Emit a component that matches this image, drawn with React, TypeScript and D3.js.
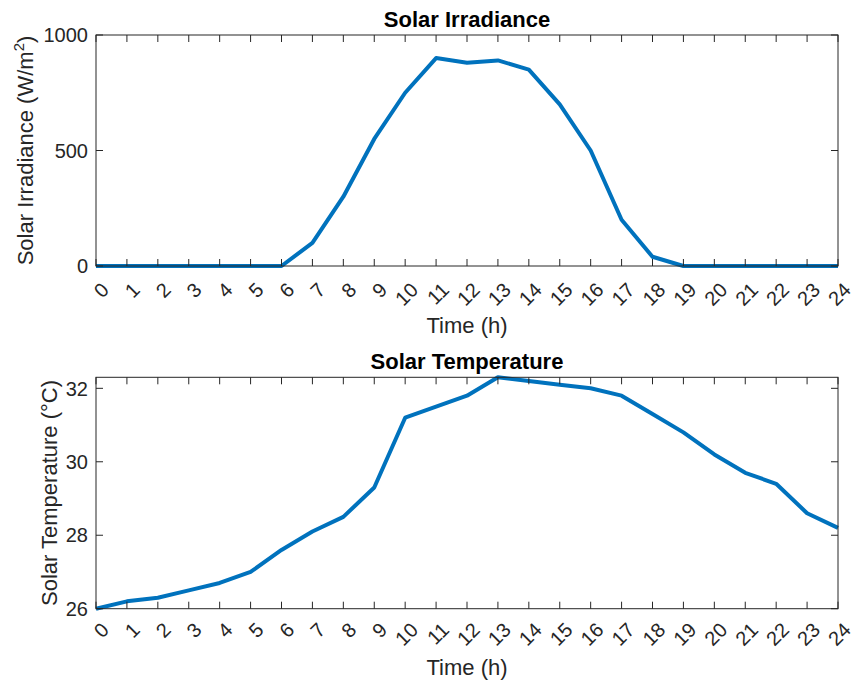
import React, { useEffect, useRef } from 'react';
import * as d3 from 'd3';

// hourly values
const hours = [0, 1, 2, 3, 4, 5, 6, 7, 8, 9, 10, 11, 12, 13, 14, 15, 16, 17, 18, 19, 20, 21, 22, 23, 24];
const irradiance = [0, 0, 0, 0, 0, 0, 0, 100, 300, 550, 750, 900, 880, 890, 850, 700, 500, 200, 40, 0, 0, 0, 0, 0, 0];
const temperature = [26.0, 26.2, 26.3, 26.5, 26.7, 27.0, 27.6, 28.1, 28.5, 29.3, 31.2, 31.5, 31.8, 32.3, 32.2, 32.1, 32.0, 31.8, 31.3, 30.8, 30.2, 29.7, 29.4, 28.6, 28.2];
const irradianceTicks = [0, 500, 1000];
const temperatureTicks = [26, 28, 30, 32];

const FONT = '"Liberation Sans", Arial, Helvetica, sans-serif';
const AXIS_COLOR = '#262626';
const LINE_COLOR = '#0072BD';

type Panel = {
  values: number[];
  domain: [number, number];
  ticks: number[];
  top: number;
  bottom: number;
  title: string;
  titleY: number;
  yLabel: string;
  yLabelSup?: string;
  yLabelX: number;
  tickLabelY: number;
  xLabelY: number;
};

function drawPanel(svg: d3.Selection<SVGSVGElement, unknown, null, undefined>, p: Panel) {
  const left = 96;
  const right = 838;
  const x = d3.scaleLinear().domain([0, 24]).range([left, right]);
  const y = d3.scaleLinear().domain(p.domain).range([p.bottom, p.top]);
  const tickLen = 7;

  const g = svg.append('g');

  // data line
  const line = d3.line<number>()
    .x((_, i) => x(hours[i]))
    .y(d => y(d));
  g.append('path')
    .datum(p.values)
    .attr('d', line)
    .attr('fill', 'none')
    .attr('stroke', LINE_COLOR)
    .attr('stroke-width', 4)
    .attr('stroke-linejoin', 'round');

  // box
  g.append('rect')
    .attr('x', left)
    .attr('y', p.top)
    .attr('width', right - left)
    .attr('height', p.bottom - p.top)
    .attr('fill', 'none')
    .attr('stroke', AXIS_COLOR)
    .attr('stroke-width', 1);

  // x ticks (bottom + top, inward)
  hours.forEach(h => {
    g.append('line')
      .attr('x1', x(h)).attr('x2', x(h))
      .attr('y1', p.bottom).attr('y2', p.bottom - tickLen)
      .attr('stroke', AXIS_COLOR);
    g.append('line')
      .attr('x1', x(h)).attr('x2', x(h))
      .attr('y1', p.top).attr('y2', p.top + tickLen)
      .attr('stroke', AXIS_COLOR);
    g.append('text')
      .attr('transform', `translate(${x(h) + 4},${p.tickLabelY}) rotate(-45)`)
      .attr('text-anchor', 'end')
      .attr('dy', '0.72em')
      .attr('font-family', FONT)
      .attr('font-size', 20)
      .attr('fill', AXIS_COLOR)
      .text(String(h));
  });

  // y ticks (left + right, inward)
  p.ticks.forEach(t => {
    g.append('line')
      .attr('x1', left).attr('x2', left + tickLen)
      .attr('y1', y(t)).attr('y2', y(t))
      .attr('stroke', AXIS_COLOR);
    g.append('line')
      .attr('x1', right).attr('x2', right - tickLen)
      .attr('y1', y(t)).attr('y2', y(t))
      .attr('stroke', AXIS_COLOR);
    g.append('text')
      .attr('x', left - 8)
      .attr('y', y(t))
      .attr('dy', '0.36em')
      .attr('text-anchor', 'end')
      .attr('font-family', FONT)
      .attr('font-size', 20)
      .attr('fill', AXIS_COLOR)
      .text(String(t));
  });

  // title
  g.append('text')
    .attr('x', (left + right) / 2)
    .attr('y', p.titleY)
    .attr('text-anchor', 'middle')
    .attr('font-family', FONT)
    .attr('font-size', 22)
    .attr('font-weight', 'bold')
    .attr('fill', '#000')
    .text(p.title);

  // x label
  g.append('text')
    .attr('x', (left + right) / 2)
    .attr('y', p.xLabelY)
    .attr('text-anchor', 'middle')
    .attr('font-family', FONT)
    .attr('font-size', 22)
    .attr('fill', AXIS_COLOR)
    .text('Time (h)');

  // y label
  const yl = g.append('text')
    .attr('transform', `translate(${p.yLabelX},${(p.top + p.bottom) / 2}) rotate(-90)`)
    .attr('text-anchor', 'middle')
    .attr('font-family', FONT)
    .attr('font-size', 22)
    .attr('fill', AXIS_COLOR);
  if (p.yLabelSup) {
    yl.append('tspan').text(p.yLabel);
    yl.append('tspan').attr('dy', -9).attr('font-size', 15).text(p.yLabelSup);
    yl.append('tspan').attr('dy', 9).text(')');
  } else {
    yl.text(p.yLabel);
  }
}

export default function App() {
  const svgRef = useRef<SVGSVGElement>(null);

  useEffect(() => {
    const svg = d3.select(svgRef.current as SVGSVGElement);
    svg.selectAll('*').remove();

    drawPanel(svg, {
      values: irradiance,
      domain: [0, 1000],
      ticks: irradianceTicks,
      top: 35,
      bottom: 266,
      title: 'Solar Irradiance',
      titleY: 27,
      yLabel: 'Solar Irradiance (W/m',
      yLabelSup: '2',
      yLabelX: 33,
      tickLabelY: 281,
      xLabelY: 333,
    });

    drawPanel(svg, {
      values: temperature,
      domain: [26, 32.3],
      ticks: temperatureTicks,
      top: 377.3,
      bottom: 608.7,
      title: 'Solar Temperature',
      titleY: 369,
      yLabel: 'Solar Temperature (°C)',
      yLabelX: 57,
      tickLabelY: 621,
      xLabelY: 675,
    });
  }, []);

  return (
    <svg
      ref={svgRef}
      width={851}
      height={684}
      style={{ position: 'absolute', left: 0, top: 0, background: '#fff' }}
    />
  );
}
